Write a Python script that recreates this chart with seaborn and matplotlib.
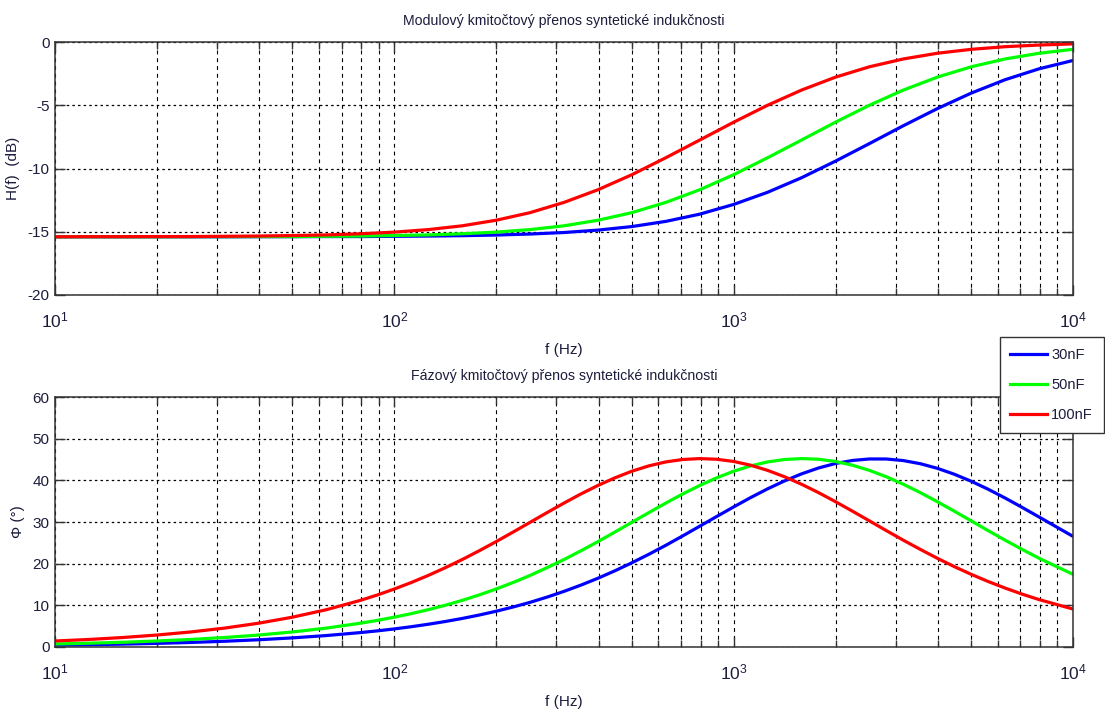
import matplotlib
matplotlib.use("Agg")
import matplotlib.pyplot as plt
import pandas as pd
import seaborn as sns
from matplotlib.ticker import FixedLocator, FixedFormatter, NullFormatter, MultipleLocator

# Frequency grid for the magnitude plot (Hz), 10 points per decade
freq = [10, 12.59, 15.85, 19.95, 25.12, 31.62, 39.81, 50.12, 63.10, 79.43,
        100, 125.9, 158.5, 199.5, 251.2, 316.2, 398.1, 501.2, 631.0, 794.3,
        1000, 1259, 1585, 1995, 2512, 3162, 3981, 5012, 6310, 7943, 10000]

# Magnitude response (dB)
mag_30nF = [-15.40, -15.40, -15.40, -15.40, -15.40, -15.40, -15.39, -15.39, -15.38, -15.38,
            -15.36, -15.34, -15.31, -15.26, -15.18, -15.06, -14.87, -14.59, -14.18, -13.61,
            -12.84, -11.88, -10.73, -9.42, -8.03, -6.62, -5.27, -4.04, -2.98, -2.12, -1.46]
mag_50nF = [-15.40, -15.40, -15.40, -15.40, -15.39, -15.39, -15.38, -15.38, -15.36, -15.34,
            -15.30, -15.25, -15.16, -15.03, -14.83, -14.53, -14.09, -13.49, -12.68, -11.68,
            -10.49, -9.15, -7.75, -6.34, -5.00, -3.80, -2.78, -1.96, -1.34, -0.89, -0.58]
mag_100nF = [-15.40, -15.39, -15.39, -15.38, -15.38, -15.36, -15.34, -15.30, -15.25, -15.16,
             -15.03, -14.83, -14.53, -14.09, -13.49, -12.68, -11.68, -10.49, -9.15, -7.75,
             -6.34, -5.00, -3.80, -2.78, -1.96, -1.34, -0.89, -0.58, -0.37, -0.24, -0.15]

# Frequency grid for the phase plot (Hz), denser around the peaks
freq_ph = [10, 12.59, 15.85, 19.95, 25.12, 31.62, 39.81, 50.12, 63.10, 79.43,
           89.13, 100, 112.2, 125.9, 141.3, 158.5, 177.8, 199.5, 223.9, 251.2,
           281.8, 316.2, 354.8, 398.1, 446.7, 501.2, 562.3, 631.0, 707.9, 794.3,
           891.3, 1000, 1122, 1259, 1413, 1585, 1778, 1995, 2239, 2512,
           2818, 3162, 3548, 3981, 4467, 5012, 5623, 6310, 7079, 7943, 10000]

# Phase response (degrees)
ph_30nF = [0.44, 0.55, 0.69, 0.87, 1.09, 1.38, 1.74, 2.19, 2.75, 3.46,
           3.87, 4.34, 4.87, 5.46, 6.12, 6.85, 7.67, 8.58, 9.60, 10.72,
           11.97, 13.35, 14.86, 16.50, 18.29, 20.21, 22.25, 24.41, 26.67, 28.99,
           31.32, 33.62, 35.86, 37.96, 39.87, 41.55, 42.96, 44.04, 44.77, 45.13,
           45.12, 44.74, 43.99, 42.89, 41.47, 39.78, 37.86, 35.75, 33.51, 31.20, 26.55]
ph_50nF = [0.72, 0.91, 1.14, 1.44, 1.81, 2.28, 2.87, 3.61, 4.54, 5.71,
           6.39, 7.16, 8.01, 8.96, 10.02, 11.19, 12.49, 13.92, 15.48, 17.18,
           19.03, 20.99, 23.09, 25.29, 27.59, 29.92, 32.25, 34.54, 36.74, 38.77,
           40.60, 42.19, 43.47, 44.42, 45.00, 45.22, 45.06, 44.53, 43.63, 42.39,
           40.85, 39.06, 37.06, 34.88, 32.60, 30.27, 27.93, 25.63, 23.43, 21.30, 17.44]
ph_100nF = [1.44, 1.81, 2.28, 2.87, 3.61, 4.54, 5.71, 7.16, 8.96, 11.19,
            12.49, 13.92, 15.48, 17.18, 19.03, 20.99, 23.09, 25.29, 27.59, 29.92,
            32.25, 34.54, 36.74, 38.77, 40.60, 42.19, 43.47, 44.42, 45.00, 45.22,
            45.06, 44.53, 43.63, 42.39, 40.85, 39.06, 37.06, 34.88, 32.60, 30.27,
            27.93, 25.63, 23.43, 21.30, 19.30, 17.44, 15.72, 14.14, 12.69, 11.38, 9.11]

series = ["30nF", "50nF", "100nF"]
colors = ["#0000ff", "#00ff00", "#ff0000"]
xtick_vals = [10, 100, 1000, 10000]
xtick_labels = ["$10^{1}$", "$10^{2}$", "$10^{3}$", "$10^{4}$"]

title_mag = "Modulový kmitočtový přenos syntetické indukčnosti"
title_ph = "Fázový kmitočtový přenos syntetické indukčnosti"

df_mag = pd.DataFrame({
    "f": freq * 3,
    "value": mag_30nF + mag_50nF + mag_100nF,
    "C": [s for s in series for _ in freq],
})
df_ph = pd.DataFrame({
    "f": freq_ph * 3,
    "value": ph_30nF + ph_50nF + ph_100nF,
    "C": [s for s in series for _ in freq_ph],
})

plt.rcParams["font.family"] = ["Liberation Sans", "DejaVu Sans"]
plt.rcParams["mathtext.fontset"] = "custom"
plt.rcParams["mathtext.rm"] = "Liberation Sans"
plt.rcParams["mathtext.it"] = "Liberation Sans"
plt.rcParams["mathtext.default"] = "rm"
plt.rcParams["axes.unicode_minus"] = False

text_col = "#1c1c3c"
fig = plt.figure(figsize=(11.05, 7.15), dpi=100)
ax1 = fig.add_axes([55 / 1105, 1 - 295 / 715, 1018 / 1105, 253 / 715])
ax2 = fig.add_axes([55 / 1105, 1 - 647 / 715, 1018 / 1105, 250 / 715])

palette = dict(zip(series, colors))
sns.lineplot(data=df_mag, x="f", y="value", hue="C", hue_order=series, palette=palette,
             linewidth=2.3, ax=ax1, legend=False, sort=True)
sns.lineplot(data=df_ph, x="f", y="value", hue="C", hue_order=series, palette=palette,
             linewidth=2.3, ax=ax2, legend=False, sort=True)

minor = [m * 10 ** d for d in range(1, 4) for m in range(2, 10)]

for ax, ylim, ystep, ylabel, title in [
    (ax1, (-20, 0), 5, "H(f)  (dB)", title_mag),
    (ax2, (0, 60), 10, "Φ (°)", title_ph),
]:
    ax.set_xscale("log")
    ax.set_xlim(10, 10000)
    ax.set_ylim(*ylim)
    ax.xaxis.set_major_locator(FixedLocator(xtick_vals))
    ax.xaxis.set_major_formatter(FixedFormatter(xtick_labels))
    ax.xaxis.set_minor_locator(FixedLocator(minor))
    ax.xaxis.set_minor_formatter(NullFormatter())
    ax.yaxis.set_major_locator(MultipleLocator(ystep))
    ax.tick_params(which="both", direction="in", top=True, right=True,
                   colors="#333333", labelcolor=text_col, width=1)
    ax.tick_params(which="major", length=7)
    ax.tick_params(which="minor", length=5)
    ax.tick_params(axis="x", which="major", labelsize=12.5, pad=11)
    ax.tick_params(axis="y", labelsize=11, pad=4)
    ax.grid(True, axis="x", which="both", color="black", linestyle=(0, (3.5, 3.5)), linewidth=0.8)
    ax.grid(True, axis="y", which="major", color="black", linestyle=(0, (2, 2.5)), linewidth=0.9)
    for sp in ax.spines.values():
        sp.set_color("#333333")
        sp.set_linewidth(1.1)
    ax.set_xlabel("f (Hz)", fontsize=11, color=text_col, labelpad=9)
    ax.set_ylabel(ylabel, fontsize=11, color=text_col, labelpad=5)
    ax.set_title(title, fontsize=10.2, color=text_col, pad=12)

handles = [plt.Line2D([], [], color=c, linewidth=2.3) for c in colors]
leg = fig.legend(handles, series, loc="upper right", bbox_to_anchor=(1104 / 1105, 1 - 337 / 715),
                 frameon=True, fancybox=False, shadow=False, fontsize=10.5,
                 handlelength=2.5, handletextpad=0.3, borderpad=0.75, labelspacing=1.1,
                 borderaxespad=0)
leg.get_frame().set_edgecolor("#333333")
leg.get_frame().set_linewidth(1.0)
leg.get_frame().set_alpha(1.0)
for t in leg.get_texts():
    t.set_color(text_col)

fig.savefig("out.png", dpi=100, facecolor="white")
